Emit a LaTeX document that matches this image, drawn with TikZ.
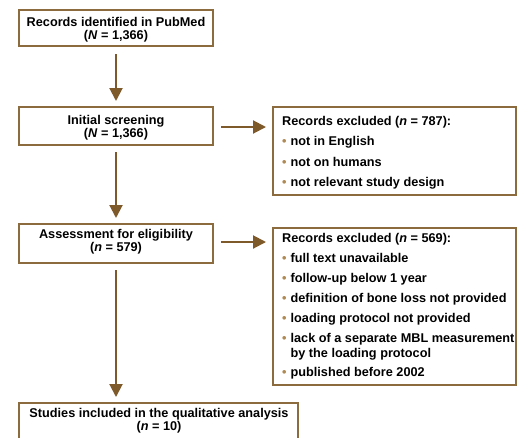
\documentclass[tikz,border=0pt]{standalone}
\usepackage{fontspec}
\setmainfont{Liberation Sans}
\usetikzlibrary{arrows.meta}
\definecolor{brn}{HTML}{8C6B3E}
\definecolor{arw}{HTML}{7E5A2B}
\definecolor{bul}{HTML}{B08A55}
\newcommand{\bu}{\textcolor{bul}{•}\hspace{4pt}}
\begin{document}
\begin{tikzpicture}[x=1pt,y=-1pt,
  box/.style={draw=brn,line width=1.6pt,fill=white,inner sep=0pt},
  arr/.style={draw=arw,line width=2pt,-{Triangle[length=13pt,width=13pt]}},
  txt/.style={font=\bfseries\fontsize{12.7}{14}\selectfont,anchor=base,inner sep=0pt},
  ltxt/.style={font=\bfseries\fontsize{12.7}{14}\selectfont,anchor=base west,inner sep=0pt}]
\useasboundingbox[fill=white] (0,0) rectangle (518,437);
% left boxes
\draw[box] (19,10) rectangle (213,46);
\node[txt] (b1a) at (116,26) {Records identified in PubMed};
\node[txt] (b1b) at (116,39) {(\textit{N} = 1,366)};
\draw[box] (19,107) rectangle (213,145);
\node[txt] (b2a) at (116,124) {Initial screening};
\node[txt] (b2b) at (116,137) {(\textit{N} = 1,366)};
\draw[box] (19,224) rectangle (213,263);
\node[txt] (b3a) at (116,238) {Assessment for eligibility};
\node[txt] (b3b) at (116,251) {(\textit{n} = 579)};
\draw[box] (19,403) rectangle (298,450);
\node[txt] (b4a) at (159,417) {Studies included in the qualitative analysis};
\node[txt] (b4b) at (159,430) {(\textit{n} = 10)};
% right box 1
\draw[box] (273,107) rectangle (516,195);
\node[ltxt] (r1h) at (282,125) {Records excluded (\textit{n} = 787):};
\node[ltxt] (r1a) at (282,145) {\bu not in English};
\node[ltxt] (r1b) at (282,166) {\bu not on humans};
\node[ltxt] (r1c) at (282,186) {\bu not relevant study design};
% right box 2
\draw[box] (273,228) rectangle (516,385);
\node[ltxt] (r2h) at (282,242) {Records excluded (\textit{n} = 569):};
\node[ltxt] (r2a) at (282,262) {\bu full text unavailable};
\node[ltxt] (r2b) at (282,282) {\bu follow-up below 1 year};
\node[ltxt] (r2c) at (282,302) {\bu definition of bone loss not provided};
\node[ltxt] (r2d) at (282,322) {\bu loading protocol not provided};
\node[ltxt] (r2e) at (282,342) {\bu lack of a separate MBL measurement};
\node[ltxt] (r2f) at (r2e.base west) [yshift=-15pt] {\phantom{\bu}by the loading protocol};
\node[ltxt] (r2g) at (282,376) {\bu published before 2002};
% connector anchors
\coordinate (a1s) at (116,54);   \coordinate (a1e) at (116,101);
\coordinate (a2s) at (116,152);  \coordinate (a2e) at (116,218);
\coordinate (a3s) at (116,270);  \coordinate (a3e) at (116,397);
\coordinate (h1s) at (221,127);  \coordinate (h1e) at (266,127);
\coordinate (h2s) at (221,242);  \coordinate (h2e) at (266,242);
\draw[arr] (a1s) -- (a1e);
\draw[arr] (a2s) -- (a2e);
\draw[arr] (a3s) -- (a3e);
\draw[arr] (h1s) -- (h1e);
\draw[arr] (h2s) -- (h2e);
\end{tikzpicture}
\end{document}
